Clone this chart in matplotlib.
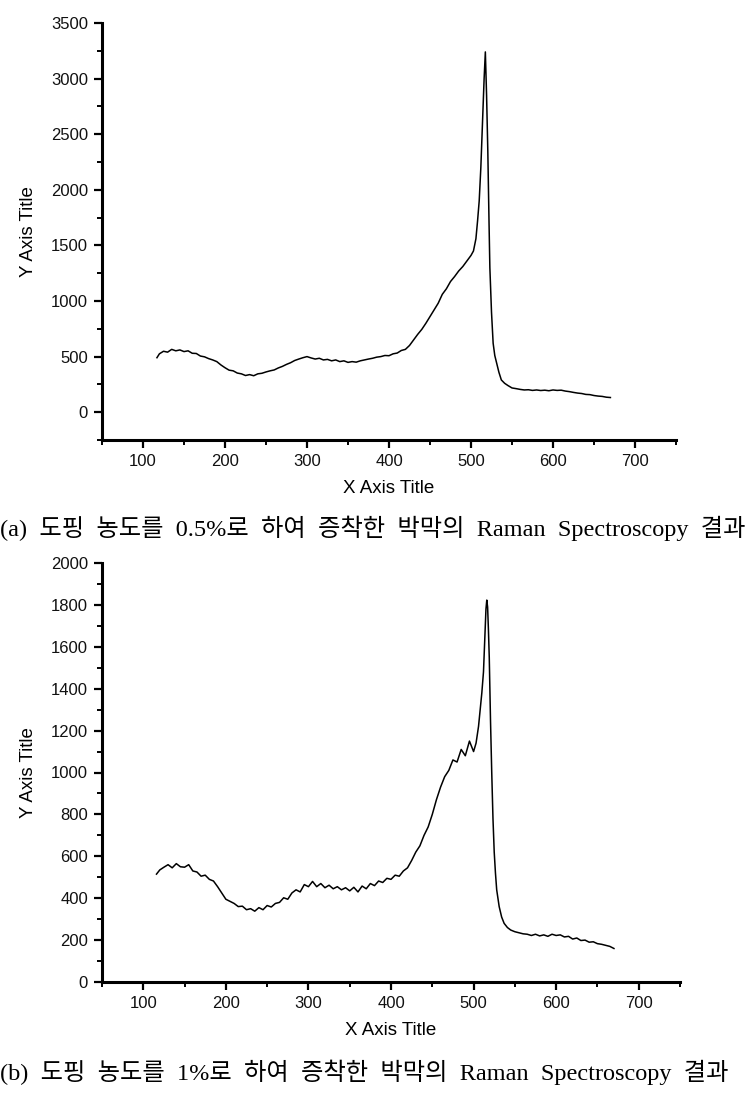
import matplotlib
matplotlib.use("Agg")
import matplotlib.pyplot as plt
from matplotlib.ticker import MultipleLocator

# ---------------- data ----------------
x_a = [117, 120, 125, 130, 135, 140, 145, 150, 155, 160, 165, 170, 175, 180, 185,
       190, 195, 200, 205, 210, 215, 220, 225, 230, 235, 240, 245, 250, 255, 260,
       265, 270, 275, 280, 285, 290, 295, 300, 305, 310, 315, 320, 325, 330, 335,
       340, 345, 350, 355, 360, 365, 370, 375, 380, 385, 390, 395, 400, 405, 410,
       415, 420, 425, 430, 435, 440, 445, 450, 455, 460, 465, 470, 475, 480, 485,
       490, 495, 500, 503, 506, 508, 510, 512, 514, 516, 517.5, 519, 520.5, 522,
       523, 525, 527, 529, 531, 534, 537, 541, 545, 550, 555, 560, 565, 570, 575,
       580, 585, 590, 595, 600, 605, 610, 615, 620, 625, 630, 635, 640, 645, 650,
       655, 660, 665, 670]
y_a = [490, 525, 548, 540, 565, 552, 560, 545, 552, 530, 528, 505, 498, 482, 470,
       455, 425, 400, 378, 372, 352, 345, 330, 338, 328, 345, 350, 362, 372, 380,
       398, 412, 430, 445, 465, 478, 490, 500, 488, 478, 485, 470, 475, 462, 470,
       455, 462, 448, 455, 450, 462, 470, 478, 485, 495, 500, 510, 508, 525, 532,
       555, 565, 600, 650, 700, 745, 800, 860, 920, 980, 1060, 1110, 1175, 1220, 1270,
       1310, 1360, 1410, 1450, 1560, 1720, 1900, 2200, 2600, 3000, 3240, 2850, 2350, 1700,
       1300, 900, 620, 510, 450, 360, 290, 260, 240, 218, 212, 205, 200, 202, 196,
       200, 195, 198, 193, 200, 196, 198, 190, 185, 178, 172, 168, 160, 158, 150,
       145, 142, 135, 132]

x_b = [116, 120, 125, 130, 135, 140, 145, 150, 155, 160, 165, 170, 175, 180, 185,
       190, 195, 200, 205, 210, 215, 220, 225, 230, 235, 240, 245, 250, 255, 260,
       265, 270, 275, 280, 285, 290, 295, 300, 305, 310, 315, 320, 325, 330, 335,
       340, 345, 350, 355, 360, 365, 370, 375, 380, 385, 390, 395, 400, 405, 410,
       415, 420, 425, 430, 435, 440, 445, 450, 455, 460, 465, 470, 475, 480, 485,
       490, 495, 500, 503, 506, 508, 510, 512, 514, 515, 516, 517, 518, 519, 520.5,
       522, 523.5, 525, 526.5, 528, 531, 534, 537, 541, 545, 550, 555, 560, 565, 570,
       575, 580, 585, 590, 595, 600, 605, 610, 615, 620, 625, 630, 635, 640, 645,
       650, 655, 660, 665, 670]
y_b = [515, 535, 548, 560, 545, 565, 550, 548, 560, 530, 525, 505, 510, 490, 482,
       455, 425, 395, 385, 375, 360, 362, 345, 350, 338, 355, 345, 365, 358, 375,
       380, 402, 395, 425, 440, 430, 465, 455, 480, 455, 470, 450, 462, 445, 455,
       440, 450, 435, 452, 430, 458, 445, 470, 460, 482, 475, 495, 490, 510, 505,
       530, 545, 580, 620, 650, 700, 740, 800, 870, 930, 980, 1010, 1060, 1050, 1110,
       1080, 1150, 1100, 1140, 1220, 1300, 1380, 1480, 1680, 1780, 1823, 1790, 1680, 1550, 1250,
       1000, 780, 620, 520, 440, 360, 310, 280, 260, 248, 240, 235, 230, 228, 222,
       228, 220, 225, 218, 228, 222, 225, 215, 218, 205, 210, 198, 200, 190, 192,
       183, 180, 175, 170, 160]

xticks = [100, 200, 300, 400, 500, 600, 700]
yticks_a = [0, 500, 1000, 1500, 2000, 2500, 3000, 3500]
yticks_b = [0, 200, 400, 600, 800, 1000, 1200, 1400, 1600, 1800, 2000]

caption_a = "(a)  도핑  농도를  0.5%로  하여  증착한  박막의  Raman  Spectroscopy  결과"
caption_b = "(b)  도핑  농도를  1%로  하여  증착한  박막의  Raman  Spectroscopy  결과"
xlabel = "X Axis Title"
ylabel = "Y Axis Title"

# ---------------- drawing ----------------
W, H = 756, 1111
fig = plt.figure(figsize=(W / 100, H / 100), dpi=100)
sans = ["Liberation Sans", "DejaVu Sans"]
cap_font = ["Liberation Serif", "Noto Sans CJK KR", "DejaVu Sans"]


def axes_px(left, top, right, bottom):
    return fig.add_axes([left / W, 1 - bottom / H, (right - left) / W, (bottom - top) / H])


def style(ax, yticks, ylim, yminor):
    ax.set_xlim(50, 750)
    ax.set_ylim(*ylim)
    ax.set_xticks(xticks)
    ax.set_yticks(yticks)
    ax.xaxis.set_minor_locator(MultipleLocator(50))
    ax.yaxis.set_minor_locator(MultipleLocator(yminor))
    for s in ("top", "right"):
        ax.spines[s].set_visible(False)
    for s in ("left", "bottom"):
        ax.spines[s].set_linewidth(2.2)
    ax.tick_params(which="major", direction="out", length=6, width=1.6,
                   labelsize=12, pad=4, colors="black")
    ax.tick_params(which="minor", direction="out", length=3.5, width=1.4)
    for lab in ax.get_xticklabels() + ax.get_yticklabels():
        lab.set_family(sans)
        lab.set_color("#111111")
    ax.set_xlabel(xlabel, fontsize=13.5, family=sans, labelpad=8)
    ax.set_ylabel(ylabel, fontsize=13.5, family=sans, labelpad=10)


ax1 = axes_px(102, 23, 676, 440)
ax1.plot(x_a, y_a, color="black", lw=1.1)
style(ax1, yticks_a, (-250, 3500), 250)

ax2 = axes_px(102, 563, 680, 982)
ax2.plot(x_b, y_b, color="black", lw=1.1)
style(ax2, yticks_b, (0, 2000), 100)

fig.text(0.0, 1 - 528 / H, caption_a, fontsize=17.5, family=cap_font,
         ha="left", va="center", color="black")
fig.text(0.0, 1 - 1072 / H, caption_b, fontsize=17.5, family=cap_font,
         ha="left", va="center", color="black")

fig.savefig("out.png", dpi=100, facecolor="white")
